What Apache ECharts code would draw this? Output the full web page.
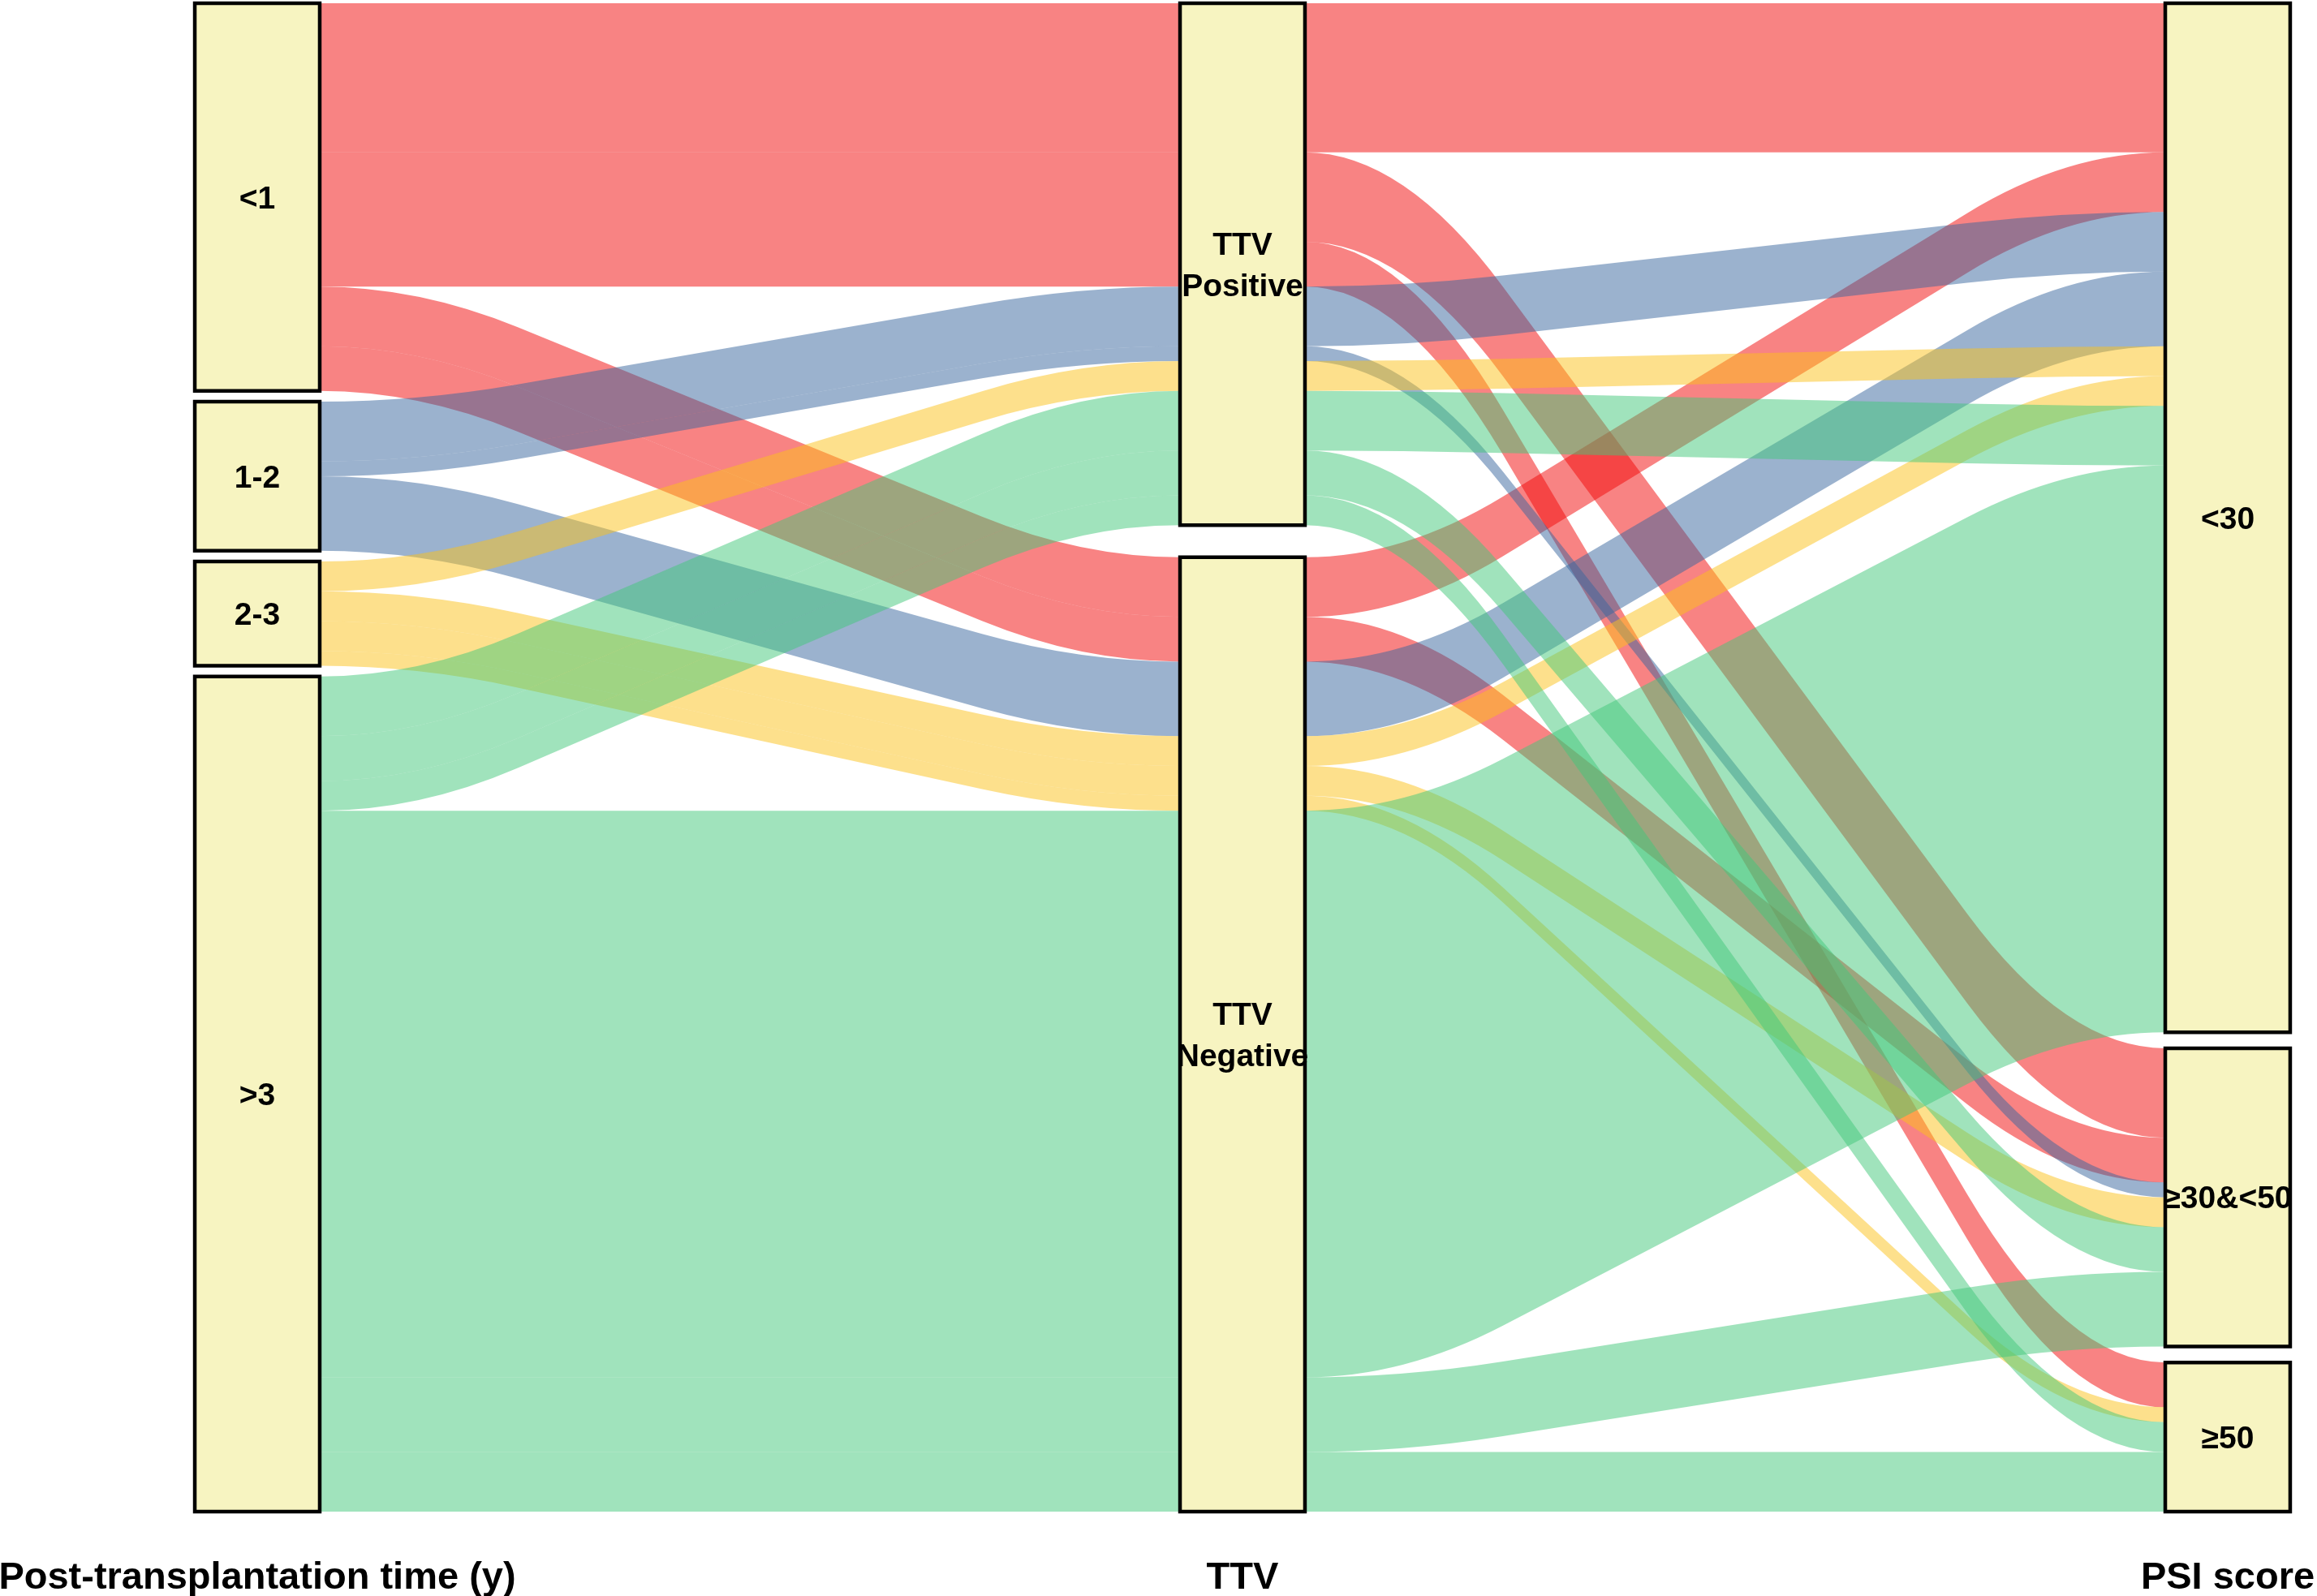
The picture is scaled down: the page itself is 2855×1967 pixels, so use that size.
<!DOCTYPE html>
<html>
<head>
<meta charset="utf-8">
<script src="https://cdn.jsdelivr.net/npm/echarts/dist/echarts.min.js"></script>
<style>html,body{margin:0;padding:0;background:#fff;}#chart{width:2855px;height:1967px;}</style>
</head>
<body>
<div id="chart"></div>
<script>
// ---------- data ----------
const axisNames = ['Post-transplantation time (y)', 'TTV', 'PSI score'];
const timeLevels = ['<1', '1-2', '2-3', '>3'];
const ttvLevels = ['Positive', 'Negative'];
const psiLevels = ['<30', '≥30&<50', '≥50'];
const timeLabels = ['<1', '1-2', '2-3', '>3'];
const ttvLabels = ['TTV\nPositive', 'TTV\nNegative'];
const psiLabels = ['<30', '≥30&<50', '≥50'];

// one entry per alluvium (time group, TTV status, PSI score, number of patients)
const flowTime = ['<1','<1','<1','<1','<1','1-2','1-2','1-2','2-3','2-3','2-3','2-3','>3','>3','>3','>3','>3','>3'];
const flowTTV  = ['Positive','Positive','Positive','Negative','Negative','Positive','Positive','Negative','Positive','Negative','Negative','Negative','Positive','Positive','Positive','Negative','Negative','Negative'];
const flowPSI  = ['<30','≥30&<50','≥50','<30','≥30&<50','<30','≥30&<50','<30','<30','<30','≥30&<50','≥50','<30','≥30&<50','≥50','<30','≥30&<50','≥50'];
const flowFreq = [10, 6, 3, 4, 3, 4, 1, 5, 2, 2, 2, 1, 4, 3, 2, 38, 5, 4];

const timeColors = ['rgba(241,8,8,0.5)', 'rgba(55,101,157,0.5)', 'rgba(251,193,25,0.5)', 'rgba(65,199,121,0.5)'];

// ---------- style constants ----------
const FONT = '"Liberation Sans", Arial, Helvetica, sans-serif';
const GAP_FRAC = 0.0217;   // total gap per axis, as fraction of total count
const CW = 0.0634;         // half box width, in axis-spacing units
const XW = 0.1;            // flat part of stripe, in axis-spacing units
const R = 0.15;            // corner rounding
const BOX_FILL = '#F7F4C1';
const LABEL_DY = 3;

// ---------- layout (alluvial-style ordering) ----------
const levelsByAxis = [timeLevels, ttvLevels, psiLevels];
const labelsByAxis = [timeLabels, ttvLabels, psiLabels];
const flowLevels = [flowTime, flowTTV, flowPSI];
const total = flowFreq.reduce((a, b) => a + b, 0);
const gapTotal = total * GAP_FRAC;
const pos = [];
const strata = [];
for (let j = 0; j < 3; j++) {
  const lv = levelsByAxis[j];
  const key = (i, k) => levelsByAxis[k].indexOf(flowLevels[k][i]);
  const others = [0, 1, 2].filter(k => k !== j);
  const idx = flowFreq.map((_, i) => i);
  idx.sort((p, q) => key(p, j) - key(q, j) || key(p, others[0]) - key(q, others[0]) || key(p, others[1]) - key(q, others[1]) || p - q);
  const gap = gapTotal / (lv.length - 1);
  let y = 0, prev = null;
  pos[j] = [];
  for (const i of idx) {
    const l = key(i, j);
    if (prev !== null && l !== prev) y += gap;
    pos[j][i] = [y, y + flowFreq[i]];
    y += flowFreq[i];
    prev = l;
  }
  lv.forEach((name, l) => {
    const ys = idx.filter(i => key(i, j) === l).map(i => pos[j][i]);
    if (!ys.length) return;
    strata.push({ axis: j, y0: Math.min(...ys.map(p => p[0])), y1: Math.max(...ys.map(p => p[1])), label: labelsByAxis[j][l] });
  });
}

function pt(p) { return p[0].toFixed(2) + ',' + p[1].toFixed(2); }
function edge(xa, ya, xb, yb, xw, dir) {
  const p3 = [xa + xw, ya], p4 = [xb - xw, yb];
  const q1 = [p3[0] + (p4[0] - p3[0]) * R, p3[1] + (p4[1] - p3[1]) * R];
  const q2 = [p3[0] + (p4[0] - p3[0]) * (1 - R), p3[1] + (p4[1] - p3[1]) * (1 - R)];
  if (dir > 0) return 'Q' + pt(p3) + ' ' + pt(q1) + ' L' + pt(q2) + ' Q' + pt(p4) + ' ' + pt([xb, yb]);
  return 'Q' + pt(p4) + ' ' + pt(q2) + ' L' + pt(q1) + ' Q' + pt(p3) + ' ' + pt([xa, ya]);
}

const chart = echarts.init(document.getElementById('chart'), null, { renderer: 'canvas' });
chart.setOption({
  animation: false,
  backgroundColor: '#ffffff',
  grid: { left: 317, right: 110, top: 4, bottom: 104, containLabel: false, outerBoundsMode: 'none' },
  xAxis: {
    type: 'category', data: axisNames, boundaryGap: false,
    axisLine: { show: false }, axisTick: { show: false }, splitLine: { show: false },
    axisLabel: { interval: 0, fontSize: 47, fontWeight: 'bold', color: '#000', fontFamily: FONT, margin: 82, verticalAlign: 'middle' }
  },
  yAxis: { type: 'value', inverse: true, min: 0, max: total + gapTotal, show: false },
  series: [
    {
      type: 'custom', name: 'flows', silent: true,
      data: flowFreq.map(f => [0, 0]),
      encode: { x: 0, y: 1 },
      renderItem: function (params, api) {
        const i = params.dataIndex;
        const spacing = api.coord([1, 0])[0] - api.coord([0, 0])[0];
        const cwPx = spacing * CW, xwPx = spacing * XW;
        const children = [];
        for (let j = 0; j < 2; j++) {
          const xa = api.coord([j, 0])[0] + cwPx;
          const xb = api.coord([j + 1, 0])[0] - cwPx;
          const t0 = api.coord([j, pos[j][i][0]])[1], b0 = api.coord([j, pos[j][i][1]])[1];
          const t1 = api.coord([j + 1, pos[j + 1][i][0]])[1], b1 = api.coord([j + 1, pos[j + 1][i][1]])[1];
          const d = 'M' + pt([xa, t0]) + ' ' + edge(xa, t0, xb, t1, xwPx, 1) + ' L' + pt([xb, b1]) + ' ' + edge(xa, b0, xb, b1, xwPx, -1) + ' Z';
          children.push({ type: 'path', shape: { pathData: d }, style: { fill: timeColors[timeLevels.indexOf(flowTime[i])], stroke: null } });
        }
        return { type: 'group', children: children };
      },
      z: 1
    },
    {
      type: 'custom', name: 'strata', silent: true,
      data: strata.map(s => [0, s.y0]),
      encode: { x: 0, y: 1 },
      renderItem: function (params, api) {
        const s = strata[params.dataIndex];
        const spacing = api.coord([1, 0])[0] - api.coord([0, 0])[0];
        const cwPx = spacing * CW;
        const p0 = api.coord([s.axis, s.y0]), p1 = api.coord([s.axis, s.y1]);
        return {
          type: 'group', children: [
            { type: 'rect', shape: { x: p0[0] - cwPx, y: p0[1], width: 2 * cwPx, height: p1[1] - p0[1] }, style: { fill: BOX_FILL, stroke: '#000', lineWidth: 4.5 } },
            { type: 'text', style: { text: s.label, x: p0[0], y: (p0[1] + p1[1]) / 2 + LABEL_DY, align: 'center', verticalAlign: 'middle', fontSize: 39, fontWeight: 'bold', fontFamily: FONT, fill: '#000', lineHeight: 51 } }
          ]
        };
      },
      z: 2
    }
  ]
});
</script>
</body>
</html>
